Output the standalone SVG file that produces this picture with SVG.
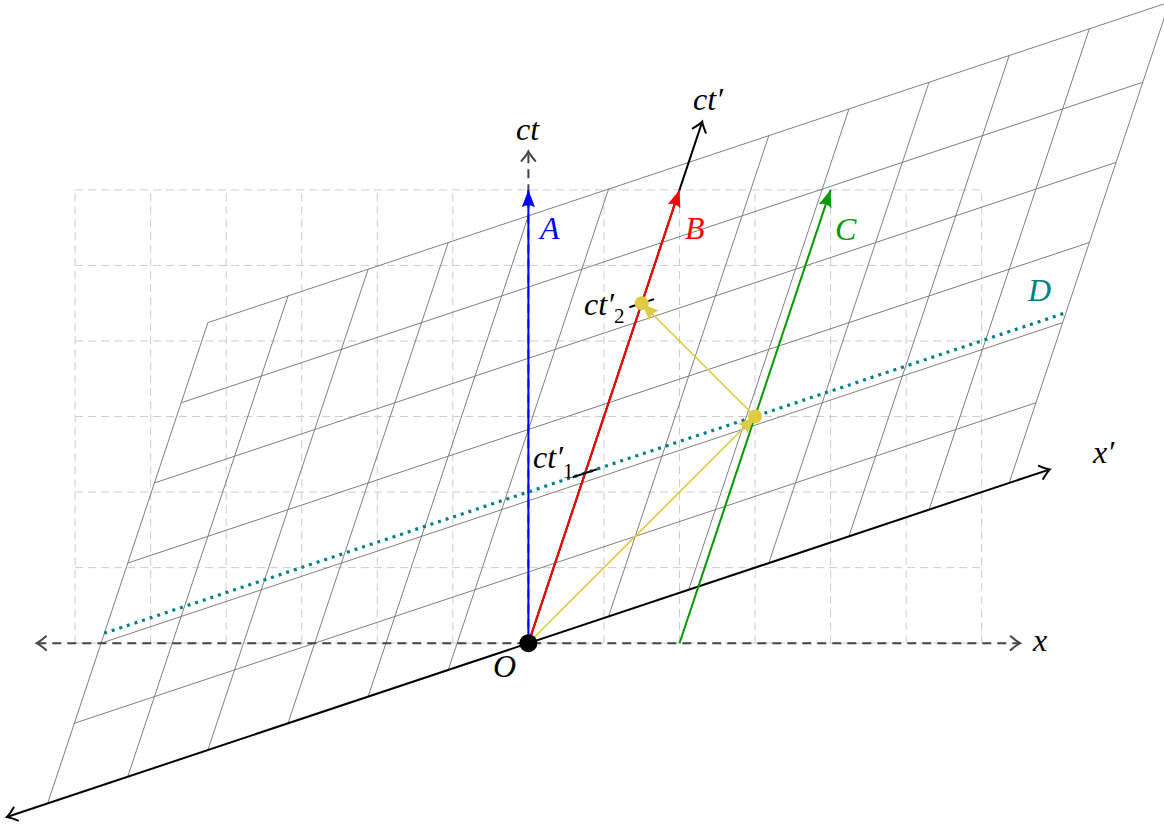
<svg xmlns="http://www.w3.org/2000/svg" width="1164" height="824" viewBox="0 0 1164 824">
<style>
.grid{stroke:#cccccc;stroke-width:1;stroke-dasharray:8 5;fill:none}
.pgrid{stroke:#808080;stroke-width:1;fill:none}
.axd{stroke:#444444;stroke-width:2;stroke-dasharray:9 6;fill:none}
.axp{stroke:#000000;stroke-width:2;fill:none}
.lbl{font-family:"Liberation Serif","DejaVu Serif",serif;font-style:italic;font-size:32px}
.sub{font-size:21px;font-style:normal}
</style>
<defs>
<marker id="openK" markerUnits="userSpaceOnUse" markerWidth="20" markerHeight="20" refX="0" refY="0" viewBox="-10 -8 12 16" orient="auto-start-reverse" overflow="visible">
<path d="M-7,-5.5 Q-2,-1.2 0.5,0 Q-2,1.2 -7,5.5" fill="none" stroke="#000" stroke-width="1.6" stroke-linecap="round"/>
</marker>
<marker id="openG" markerUnits="userSpaceOnUse" markerWidth="20" markerHeight="20" refX="0" refY="0" viewBox="-10 -8 12 16" orient="auto-start-reverse" overflow="visible">
<path d="M-7,-5.5 Q-2,-1.2 0.5,0 Q-2,1.2 -7,5.5" fill="none" stroke="#444" stroke-width="1.6" stroke-linecap="round"/>
</marker>
<marker id="fB" markerUnits="userSpaceOnUse" markerWidth="20" markerHeight="20" viewBox="-14 -6 15 12" refX="0" refY="0" orient="auto" overflow="visible"><path d="M0,0 L-13,-5 Q-10,0 -13,5 Z" fill="#0000ff"/></marker>
<marker id="fR" markerUnits="userSpaceOnUse" markerWidth="20" markerHeight="20" viewBox="-14 -6 15 12" refX="0" refY="0" orient="auto" overflow="visible"><path d="M0,0 L-13,-5 Q-10,0 -13,5 Z" fill="#ff0000"/></marker>
<marker id="fG" markerUnits="userSpaceOnUse" markerWidth="20" markerHeight="20" viewBox="-14 -6 15 12" refX="0" refY="0" orient="auto" overflow="visible"><path d="M0,0 L-13,-5 Q-10,0 -13,5 Z" fill="#009900"/></marker>
<marker id="fY" markerUnits="userSpaceOnUse" markerWidth="20" markerHeight="20" viewBox="-14 -6 15 12" refX="0" refY="0" orient="auto" overflow="visible"><path d="M0,0 L-13,-5 Q-10,0 -13,5 Z" fill="#dfcb3f"/></marker>
</defs>
<rect width="1164" height="824" fill="#ffffff"/>

<g id="grid-rest">
<path class="grid" d="M75.1,643.2V189.9M150.65,643.2V189.9M226.2,643.2V189.9M301.75,643.2V189.9M377.3,643.2V189.9M452.85,643.2V189.9M528.4,643.2V189.9M603.95,643.2V189.9M679.5,643.2V189.9M755.05,643.2V189.9M830.6,643.2V189.9M906.15,643.2V189.9M981.7,643.2V189.9"/>
<path class="grid" d="M75.1,643.2H981.7M75.1,567.65H981.7M75.1,492.1H981.7M75.1,416.55H981.7M75.1,341H981.7M75.1,265.45H981.7M75.1,189.9H981.7"/>
</g>

<g id="grid-moving">
<path class="pgrid" d="M47.6,803.47L207.87,322.67M127.73,776.76L288,295.96M207.87,750.04L368.14,269.24M288,723.33L448.27,242.53M368.13,696.62L528.4,215.82M448.27,669.91L608.54,189.11M528.4,643.2L688.67,162.4M608.53,616.49L768.8,135.69M688.67,589.78L848.94,108.98M768.8,563.07L929.07,82.27M848.93,536.36L1009.2,55.56M929.07,509.65L1089.34,28.85M1009.2,482.93L1169.47,2.13"/>
<path class="pgrid" d="M74.31,723.34L1035.91,402.8M101.02,643.2L1062.62,322.67M127.73,563.07L1089.33,242.54M154.44,482.94L1116.04,162.4M181.16,402.8L1142.76,82.27M207.87,322.67L1169.47,2.14"/>
</g>

<g id="connectors">
<line id="axis-x" class="axd" x1="37.32" y1="643.2" x2="1019.48" y2="643.2" marker-start="url(#openG)" marker-end="url(#openG)"/>
<line id="axis-ct" class="axd" x1="528.4" y1="643.2" x2="528.4" y2="152.12" marker-end="url(#openG)"/>
<line id="axis-xp" class="axp" x1="7.54" y1="816.82" x2="1049.26" y2="469.58" marker-start="url(#openK)" marker-end="url(#openK)"/>
<line id="axis-ctp" class="axp" x1="528.4" y1="643.2" x2="702.02" y2="122.34" marker-end="url(#openK)"/>
<line id="line-A" x1="528.4" y1="643.2" x2="528.4" y2="189.9" stroke="#0000ff" stroke-width="2" marker-end="url(#fB)"/>
<line id="line-B" x1="528.4" y1="643.2" x2="679.5" y2="189.9" stroke="#ff0000" stroke-width="2" marker-end="url(#fR)"/>
<line id="line-C" x1="679.5" y1="643.2" x2="830.6" y2="189.9" stroke="#009900" stroke-width="2" marker-end="url(#fG)"/>
<line id="line-D" x1="104.1" y1="633.3" x2="1066.3" y2="312.6" stroke="#008080" stroke-width="3.2" stroke-dasharray="3 5"/>
<line id="light-1" x1="528.4" y1="643.2" x2="755.05" y2="416.55" stroke="#dfcb3f" stroke-width="1.6" marker-end="url(#fY)"/>
<line id="light-2" x1="755.05" y1="416.55" x2="641.73" y2="303.2" stroke="#dfcb3f" stroke-width="1.6" marker-end="url(#fY)"/>
<line id="tick-1" x1="572.7" y1="477.3" x2="597.4" y2="469.1" stroke="#000" stroke-width="2"/>
<line id="tick-2" x1="629.4" y1="307.3" x2="654.1" y2="299.1" stroke="#000" stroke-width="2"/>
</g>

<g id="event-reflect"><circle cx="755.05" cy="416.55" r="7" fill="#dfcb3f"/></g>
<g id="event-receive"><circle cx="641.73" cy="303.2" r="7" fill="#dfcb3f"/></g>
<g id="origin"><circle cx="528.4" cy="643.2" r="9" fill="#000"/></g>

<g id="labels" class="lbl">
<text x="527.5" y="140" text-anchor="middle">ct</text>
<text x="693" y="110">ct′</text>
<text x="1033" y="651">x</text>
<text x="1093" y="463">x′</text>
<text x="493" y="677">O</text>
<text x="540" y="239" fill="#0000ff">A</text>
<text x="685" y="239" fill="#ff0000">B</text>
<text x="835" y="240" fill="#009900">C</text>
<text x="1028" y="301" fill="#008080">D</text>
<text x="533" y="468">ct′<tspan class="sub" dy="10">1</tspan></text>
<text x="584" y="315">ct′<tspan class="sub" dy="8">2</tspan></text>
</g>
</svg>
